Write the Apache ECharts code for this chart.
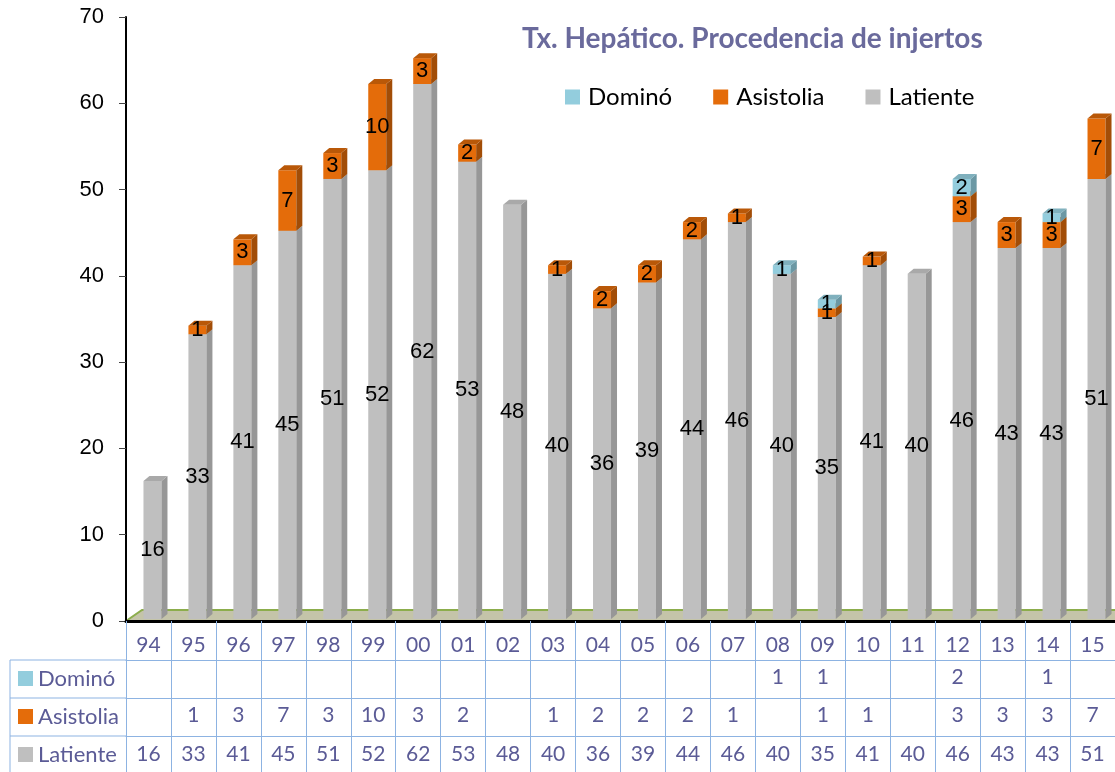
<!DOCTYPE html>
<html>
<head>
<meta charset="utf-8">
<script src="https://cdn.jsdelivr.net/npm/echarts@6/dist/echarts.min.js"></script>
<style>
html,body{margin:0;padding:0;background:#fff;}
#chart{width:1115px;height:772px;}
</style>
</head>
<body>
<div id="chart"></div>
<script>
var YEARS = ["94","95","96","97","98","99","00","01","02","03","04","05","06","07","08","09","10","11","12","13","14","15"];
var LATIENTE = [16,33,41,45,51,52,62,53,48,40,36,39,44,46,40,35,41,40,46,43,43,51];
var ASISTOLIA = [null,1,3,7,3,10,3,2,null,1,2,2,2,1,null,1,1,null,3,3,3,7];
var DOMINO = [null,null,null,null,null,null,null,null,null,null,null,null,null,null,1,1,null,null,2,null,1,null];
var NAMES = ["Dominó","Asistolia","Latiente"];

var TABLE_COLOR = "#5b5b96";
var LINE_COLOR = "#8db3e2";
var LABEL_FONT = "'Liberation Sans', Arial, sans-serif";
var TABLE_FONT = "Lato, 'Open Sans', sans-serif";

// front, side, top colours for each series
var FACES = {
	"Latiente": ["#bfbfbf", "#979797", "#a9a9a9"],
	"Asistolia": ["#e46c0a", "#a24d07", "#b95808"],
	"Dominó": ["#93cddd", "#6b98a4", "#7fb0bd"]
};

var chartObj = echarts.init(document.getElementById("chart"));

function num(v) {
	return v == null ? 0 : v;
}

// stacked data: [index, value, base]
function buildData(values, bases) {
	return values.map(function(v, i) {
		var b = 0;
		bases.forEach(function(arr) { b += num(arr[i]); });
		return [i, num(v), b];
	});
}

function makeRender(name) {
	var c = FACES[name];
	return function(params, api) {
		var v = api.value(1);
		if (!v) {
			return;
		}
		var i = api.value(0);
		var b = api.value(2);
		var p0 = api.coord([i, b]);
		var p1 = api.coord([i, b + v]);
		var w = 18, dx = 6, dy = -5;
		var cx = p0[0] + 4;
		var x0 = cx - w / 2, x1 = cx + w / 2;
		var yb = p0[1] - 2, yt = p1[1] - 2;
		return {
			type: "group",
			children: [
				{
					type: "rect",
					shape: { x: x0, y: yt, width: w, height: yb - yt },
					style: { fill: c[0] }
				},
				{
					type: "polygon",
					shape: { points: [[x1, yt], [x1 + dx, yt + dy], [x1 + dx, yb + dy], [x1, yb]] },
					style: { fill: c[1] }
				},
				{
					type: "polygon",
					shape: { points: [[x0, yt], [x0 + dx, yt + dy], [x1 + dx, yt + dy], [x1, yt]] },
					style: { fill: c[2] }
				},
				{
					type: "text",
					z2: 100,
					style: {
						text: String(v),
						x: cx,
						y: (yb + yt) / 2,
						align: "center",
						verticalAlign: "middle",
						fontSize: 22,
						fontFamily: LABEL_FONT,
						fill: "#000"
					}
				}
			]
		};
	};
}

function rowLabels(arr) {
	return arr.map(function(v) { return v == null ? "" : String(v); });
}

function tableAxis(data, offset, tickLen, margin) {
	return {
		type: "category",
		position: "bottom",
		offset: offset,
		data: data,
		axisLine: { show: true, lineStyle: { color: LINE_COLOR, width: 1 } },
		axisTick: { show: true, length: tickLen, interval: 0, lineStyle: { color: LINE_COLOR } },
		axisLabel: {
			interval: 0,
			margin: margin,
			fontSize: 21,
			fontFamily: TABLE_FONT,
			color: TABLE_COLOR
		},
		splitLine: { show: false }
	};
}

var rowTop = [660, 698, 736];
var rowKeys = [];
NAMES.forEach(function(name, k) {
	var y = rowTop[k];
	rowKeys.push({
		type: "line",
		shape: { x1: 10, y1: y, x2: 126, y2: y },
		style: { stroke: LINE_COLOR, lineWidth: 1 }
	});
	rowKeys.push({
		type: "rect",
		shape: { x: 18, y: y + 11, width: 15, height: 15 },
		style: { fill: FACES[name][0] }
	});
	rowKeys.push({
		type: "text",
		style: {
			text: name,
			x: 38,
			y: y + 19,
			verticalAlign: "middle",
			fontSize: 22,
			fontFamily: TABLE_FONT,
			fill: TABLE_COLOR
		}
	});
});
rowKeys.push({
	type: "line",
	shape: { x1: 10, y1: 660, x2: 10, y2: 772 },
	style: { stroke: LINE_COLOR, lineWidth: 1 }
});

var option = {
	backgroundColor: "#fff",
	animation: false,
	title: {
		text: "Tx. Hepático. Procedencia de injertos",
		left: 522,
		top: 25,
		padding: 0,
		textStyle: {
			fontFamily: TABLE_FONT,
			fontSize: 28,
			fontWeight: "bold",
			color: "#6a6a9c"
		}
	},
	legend: {
		data: NAMES,
		left: 565,
		top: 85,
		padding: 0,
		icon: "rect",
		itemWidth: 15,
		itemHeight: 15,
		itemGap: 41,
		textStyle: {
			fontFamily: TABLE_FONT,
			fontSize: 24,
			color: "#000",
			padding: [0, 0, 0, 3]
		}
	},
	grid: {
		left: 126,
		right: 0,
		top: 17,
		bottom: 151,
		containLabel: false
	},
	graphic: [
		{
			type: "polygon",
			z: 0,
			shape: { points: [[126, 621], [142, 610], [1115, 610], [1115, 621]] },
			style: { fill: "#c4c4a9" }
		},
		{
			type: "polyline",
			z: 0,
			shape: { points: [[126, 621], [142, 610], [1115, 610]] },
			style: { stroke: "#8cad4c", lineWidth: 2, fill: null }
		}
	].concat(rowKeys),
	xAxis: [
		{
			type: "category",
			position: "bottom",
			data: YEARS,
			z: 5,
			axisLine: { show: true, lineStyle: { color: "#000", width: 3 } },
			axisTick: { show: true, length: 39, interval: 0, lineStyle: { color: LINE_COLOR } },
			axisLabel: {
				interval: 0,
				margin: 14,
				fontSize: 21,
				fontFamily: TABLE_FONT,
				color: TABLE_COLOR
			}
		},
		tableAxis(rowLabels(DOMINO), 39, 38, 7),
		tableAxis(rowLabels(ASISTOLIA), 77, 38, 7),
		tableAxis(rowLabels(LATIENTE), 115, 36, 8)
	],
	yAxis: {
		type: "value",
		min: 0,
		max: 70,
		interval: 10,
		axisLine: { show: true, lineStyle: { color: "#000", width: 2 } },
		axisTick: { show: true, length: 7, lineStyle: { color: "#444" } },
		axisLabel: {
			margin: 22,
			fontSize: 22,
			fontFamily: LABEL_FONT,
			color: "#000"
		},
		splitLine: { show: false }
	},
	series: [
		{
			name: "Latiente",
			type: "custom",
			xAxisIndex: 0,
			itemStyle: { color: FACES["Latiente"][0] },
			renderItem: makeRender("Latiente"),
			encode: { x: 0, y: 1 },
			data: buildData(LATIENTE, [])
		},
		{
			name: "Asistolia",
			type: "custom",
			xAxisIndex: 0,
			itemStyle: { color: FACES["Asistolia"][0] },
			renderItem: makeRender("Asistolia"),
			encode: { x: 0, y: 1 },
			data: buildData(ASISTOLIA, [LATIENTE])
		},
		{
			name: "Dominó",
			type: "custom",
			xAxisIndex: 0,
			itemStyle: { color: FACES["Dominó"][0] },
			renderItem: makeRender("Dominó"),
			encode: { x: 0, y: 1 },
			data: buildData(DOMINO, [LATIENTE, ASISTOLIA])
		}
	]
};
chartObj.setOption(option);
</script>
</body>
</html>
